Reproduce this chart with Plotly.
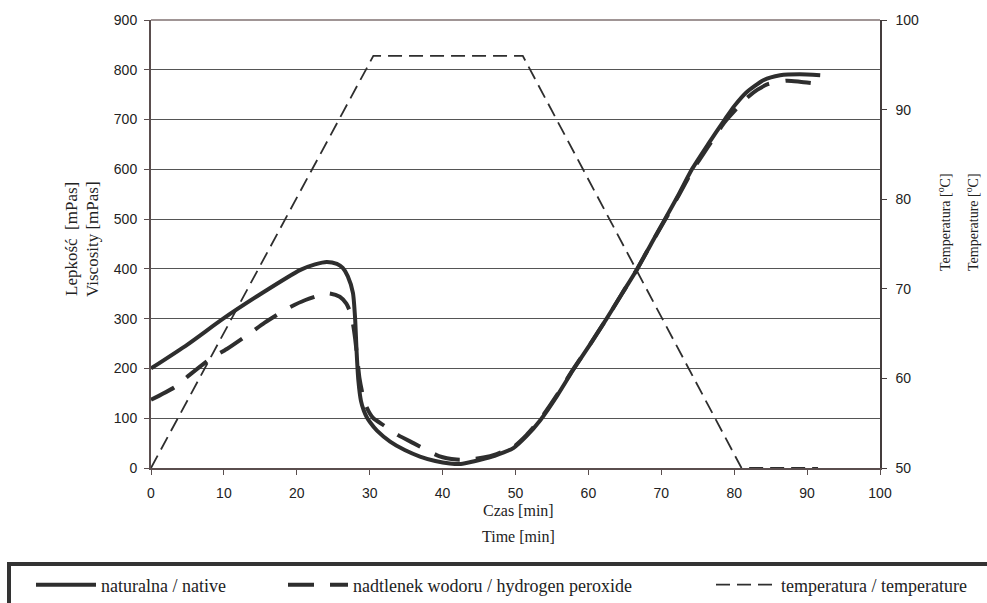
import plotly.graph_objects as go

# ---------------- data ----------------
time_native = [0, 5, 9.9, 15.2, 20.5, 22.5, 24.1, 25.5, 26.3, 27.0, 27.7, 28.0, 28.2, 28.45,
               28.8, 29.2, 29.6, 30.0, 31.0, 32.8, 34.8, 36.9, 39.0, 41.0, 42.5, 44.2, 45.8,
               47.4, 49.7, 51.5, 53.4, 55.7, 57.9, 60.3, 62.5, 64.6, 66.7, 68.6, 70.5, 72.4,
               74.2, 76.4, 78.7, 80.0, 81.7, 84.0, 86.3, 89.0, 91.8]
viscosity_native = [200, 248, 300, 351, 398, 409, 414, 410, 402, 385, 352, 300, 235, 175,
                    135, 115, 102, 93, 75, 53, 36, 23, 14, 9, 8, 13, 19,
                    26, 40, 64, 96, 145, 197, 250, 300, 350, 400, 450, 500, 550,
                    600, 650, 700, 727, 755, 779, 789, 791, 789]

time_h2o2 = [0, 3.3, 5.3, 8.3, 10.4, 13.6, 15.6, 18.8, 21.1, 24.3, 25.9, 26.8, 27.3, 27.7,
             28.0, 28.3, 28.6, 29.0, 29.5, 30.0, 30.5, 32.0, 33.9, 36.0, 39.5, 41.9, 43.5,
             45.6, 47.4, 49.7, 51.5, 53.4, 55.7, 57.9, 60.3, 62.5, 64.6, 66.7, 68.6, 70.5,
             72.4, 74.2, 76.4, 78.7, 80.2, 81.7, 83.2, 84.6, 87.2, 89.0, 90.8]
viscosity_h2o2 = [137, 163, 187, 221, 239, 271, 292, 321, 337, 351, 344, 330, 314, 290,
                  260, 220, 180, 150, 125, 110, 100, 85, 66, 50, 24, 17, 17,
                  21, 28, 42, 66, 98, 147, 198, 250, 300, 350, 400, 450, 498,
                  548, 596, 645, 695, 720, 743, 760, 771, 778, 776, 773]

time_temp = [0, 30.5, 51, 81, 91.5]
temperature = [50, 96, 96, 50, 50]

x_ticks = [0, 10, 20, 30, 40, 50, 60, 70, 80, 90, 100]
y_ticks = [0, 100, 200, 300, 400, 500, 600, 700, 800, 900]
y2_ticks = [50, 60, 70, 80, 90, 100]

names = ["naturalna / native",
         "nadtlenek wodoru / hydrogen peroxide",
         "temperatura / temperature"]

# ---------------- style ----------------
W, H = 987, 603
L, R, T, B = 151, 107, 20, 135
PW, PH = W - L - R, H - T - B
SANS = "Liberation Sans, Arial, sans-serif"
SERIF = "Liberation Serif, Times New Roman, serif"
LINE = "#2e2e2e"


def px_x(p):
    return (p - L) / PW


def px_y(p):
    return (H - B - p) / PH


fig = go.Figure()
fig.add_trace(go.Scatter(x=time_native, y=viscosity_native, name=names[0], mode="lines",
                         line=dict(color=LINE, width=4, shape="spline", smoothing=0.6),
                         legend="legend"))
fig.add_trace(go.Scatter(x=time_h2o2, y=viscosity_h2o2, name=names[1], mode="lines",
                         line=dict(color=LINE, width=4, dash="26px,16px", shape="spline",
                                   smoothing=0.6),
                         legend="legend2"))
fig.add_trace(go.Scatter(x=time_temp, y=temperature, name=names[2], mode="lines",
                         line=dict(color=LINE, width=1.8, dash="14px,7px"),
                         yaxis="y2", legend="legend3"))

leg_common = dict(orientation="h", yanchor="middle", xanchor="left",
                  bgcolor="rgba(0,0,0,0)", itemwidth=60,
                  font=dict(family=SERIF, size=18, color="#222"))
leg_y = px_y(585)

fig.update_layout(
    width=W, height=H, autosize=False,
    margin=dict(l=L, r=R, t=T, b=B, autoexpand=False),
    paper_bgcolor="white", plot_bgcolor="white",
    showlegend=True,
    legend=dict(x=px_x(31), y=leg_y, **leg_common),
    legend2=dict(x=px_x(283), y=leg_y, **leg_common),
    legend3=dict(x=px_x(711), y=leg_y, **leg_common),
    xaxis=dict(range=[0, 100], tickvals=x_ticks, showgrid=False, zeroline=False,
               showline=True, linecolor="#5a4e4e", linewidth=2,
               ticks="outside", ticklen=5, tickcolor="#5a4e4e", ticklabelstandoff=6,
               tickfont=dict(family=SANS, size=14, color="#222")),
    yaxis=dict(range=[0, 900], tickvals=y_ticks, showgrid=True, gridcolor="#555",
               gridwidth=1, zeroline=False, showline=True, linecolor="#5a4e4e",
               linewidth=2, ticks="outside", ticklen=5, tickcolor="#5a4e4e",
               ticklabelstandoff=4,
               tickfont=dict(family=SANS, size=14, color="#222")),
    yaxis2=dict(range=[50, 100], tickvals=y2_ticks, overlaying="y", side="right",
                showgrid=False, zeroline=False, showline=True, linecolor="#443c3c",
                linewidth=1.5, ticks="outside", ticklen=5, tickcolor="#443c3c",
                ticklabelstandoff=6,
                tickfont=dict(family=SANS, size=14, color="#222")),
)

# top border of the plot area
fig.add_shape(type="line", xref="paper", yref="paper", x0=0, x1=1, y0=1, y1=1,
              line=dict(color="#a09595", width=2))
# legend frame (runs off the bottom/right edge like the reference)
fig.add_shape(type="rect", xref="paper", yref="paper",
              x0=px_x(9), x1=px_x(1010), y0=px_y(564), y1=px_y(640),
              line=dict(color="#333", width=4))

ann = []


def add_text(text, xp, yp, angle=0, size=16):
    ann.append(dict(text=text, xref="paper", yref="paper", x=px_x(xp), y=px_y(yp),
                    xanchor="center", yanchor="middle", showarrow=False,
                    textangle=angle, font=dict(family=SERIF, size=size, color="#222")))


add_text("Czas [min]", 518, 510)
add_text("Time [min]", 518, 536)
add_text("Lepkość  [mPas]", 71, 239, -90, 17)
add_text("Viscosity [mPas]", 92, 239, -90, 17)
add_text("Temperatura [<sup>o</sup>C]", 944, 222, -90, 14)
add_text("Temperature [<sup>o</sup>C]", 972, 222, -90, 14)
fig.update_layout(annotations=ann)

fig.write_html("out.html", config={"displayModeBar": False},
               post_script="document.body.style.margin='0';document.body.style.overflow='hidden';")
